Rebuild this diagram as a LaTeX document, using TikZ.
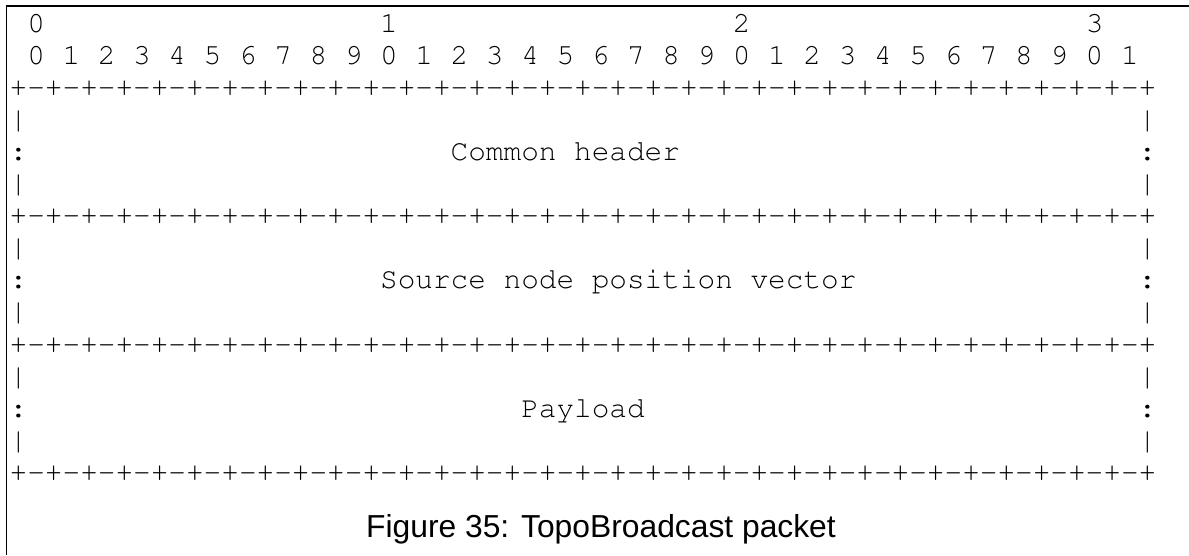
\documentclass[tikz,border=0pt]{standalone}
\usepackage[T1]{fontenc}
\usepackage{fontspec}
\setmonofont{Liberation Mono}
\newfontfamily\capfont{Liberation Sans}
\newcommand\courierfont{\fontencoding{T1}\fontfamily{pcr}\fontseries{m}\fontshape{n}\fontsize{29.4}{30}\selectfont}
\tikzset{
  mono/.style={inner sep=0pt, anchor=base west, font=\courierfont, text=black},
  capt/.style={inner sep=0pt, anchor=base west, font=\capfont\fontsize{31.8}{34}\selectfont, text=black},
  frame/.style={line width=1.2pt, draw=black}
}
\newcommand\cellat[4]{\node[mono] (#1) at ({9.5+17.64*#2},{-(32+32.1*#3)}) {#4};}
\newcommand\sepline{+-+-+-+-+-+-+-+-+-+-+-+-+-+-+-+-+-+-+-+-+-+-+-+-+-+-+-+-+-+-+-+-+}
\begin{document}
\begin{tikzpicture}[x=1pt,y=1pt]
\useasboundingbox (0,0) rectangle (1189,-555);
% frame
\coordinate (tl) at (6.5,-6);
\coordinate (tr) at (1189,-6);
\coordinate (bl) at (6.5,-555);
\draw[frame] (tr) -- (tl) -- (bl);
% header rows
\cellat{h0}{1}{0}{0}
\cellat{h1}{21}{0}{1}
\cellat{h2}{41}{0}{2}
\cellat{h3}{61}{0}{3}
\cellat{bits}{1}{1}{0 1 2 3 4 5 6 7 8 9 0 1 2 3 4 5 6 7 8 9 0 1 2 3 4 5 6 7 8 9 0 1}
% separators
\cellat{s1}{0}{2}{\sepline}
\cellat{s2}{0}{6}{\sepline}
\cellat{s3}{0}{10}{\sepline}
\cellat{s4}{0}{14}{\sepline}
% side bars
\foreach \r/\c in {3/|,4/:,5/|,7/|,8/:,9/|,11/|,12/:,13/|}{
  \cellat{l\r}{0}{\r}{\c}
  \cellat{r\r}{64}{\r}{\c}
}
% labels
\cellat{common}{25}{4}{Common header}
\cellat{source}{21}{8}{Source node position vector}
\cellat{payload}{29}{12}{Payload}
% caption
\node[capt] (caption) at (366,-537) {Figure 35: TopoBroadcast packet};
\end{tikzpicture}
\end{document}
